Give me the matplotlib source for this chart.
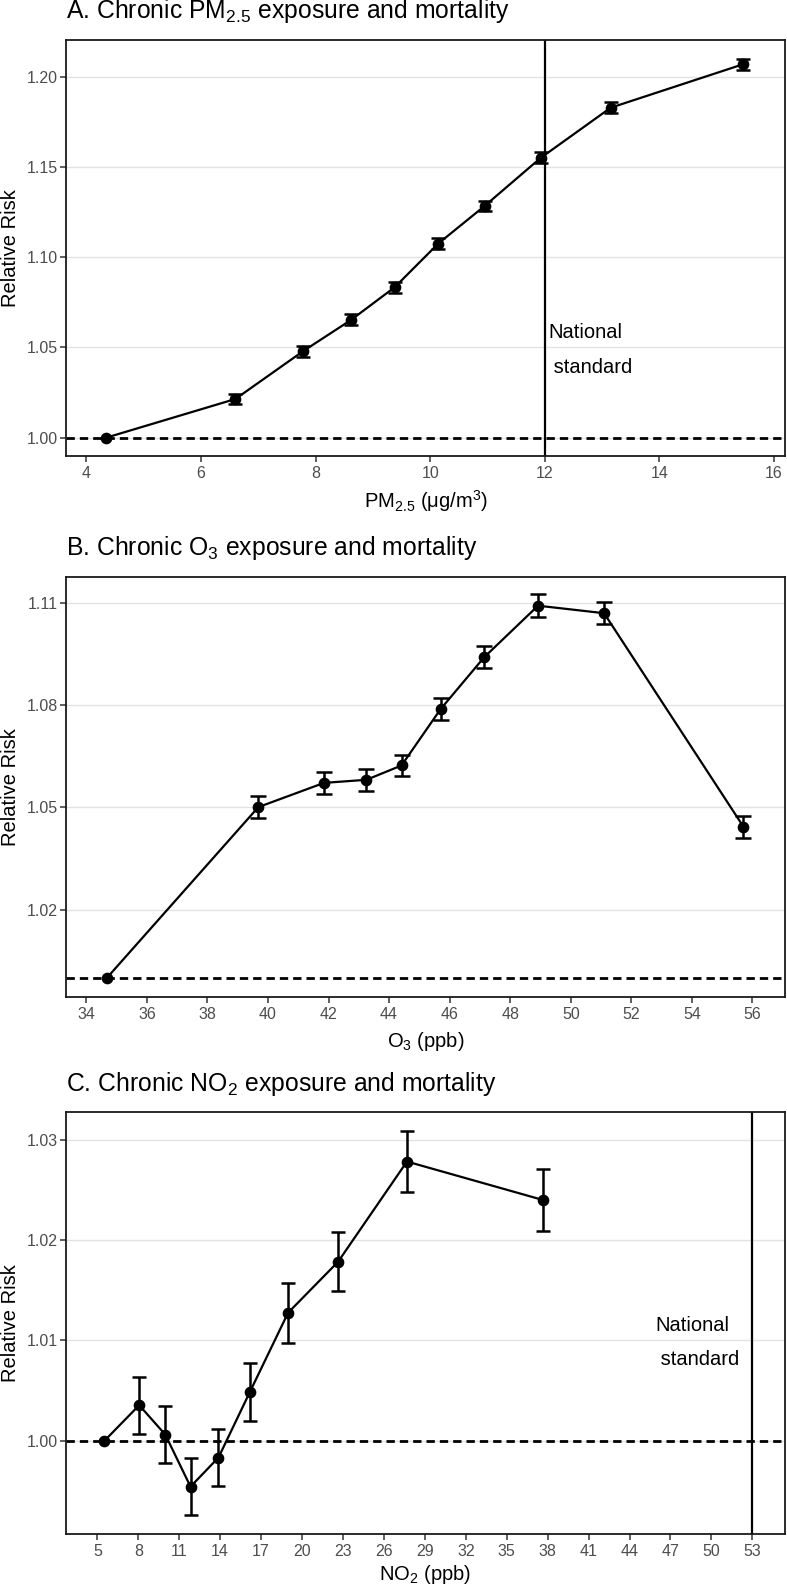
import matplotlib
matplotlib.use("Agg")
import matplotlib.pyplot as plt

plt.rcParams['font.family'] = ['Liberation Sans', 'DejaVu Sans']
plt.rcParams['mathtext.fontset'] = 'custom'
plt.rcParams['mathtext.rm'] = 'Liberation Sans'

# Panel A: PM2.5
pm_x = [4.35, 6.60, 7.78, 8.62, 9.38, 10.14, 10.95, 11.93, 13.15, 15.46]
pm_rr = [1.000, 1.0214, 1.0479, 1.0653, 1.0834, 1.1076, 1.1285, 1.1552, 1.1830, 1.2071]
pm_err = [0.0, 0.003, 0.003, 0.003, 0.003, 0.003, 0.003, 0.003, 0.003, 0.003]
pm_ticks = [4, 6, 8, 10, 12, 14, 16]
pm_yticks = [1.00, 1.05, 1.10, 1.15, 1.20]
pm_yticklabels = ['1.00', '1.05', '1.10', '1.15', '1.20']

# Panel B: O3
o3_x = [34.67, 39.68, 41.85, 43.25, 44.41, 45.70, 47.14, 48.92, 51.10, 55.70]
o3_rr = [1.000, 1.0501, 1.0572, 1.0581, 1.0623, 1.0788, 1.0940, 1.1091, 1.1069, 1.0444]
o3_err = [0.0, 0.0032, 0.0032, 0.0032, 0.0032, 0.0032, 0.0032, 0.0033, 0.0033, 0.0032]
o3_ticks = list(range(34, 57, 2))
o3_yticks = [1.02, 1.05, 1.08, 1.11]
o3_yticklabels = ['1.02', '1.05', '1.08', '1.11']

# Panel C: NO2
no2_x = [5.51, 8.07, 9.98, 11.83, 13.88, 16.17, 18.98, 22.64, 27.69, 37.64]
no2_rr = [1.000, 1.00356, 1.00063, 0.99545, 0.99835, 1.00485, 1.01276, 1.01783, 1.02781, 1.02399]
no2_err = [0.0, 0.00285, 0.00283, 0.00284, 0.00284, 0.00287, 0.0030, 0.00295, 0.00305, 0.0031]
no2_ticks = list(range(5, 54, 3))
no2_yticks = [1.00, 1.01, 1.02, 1.03]
no2_yticklabels = ['1.00', '1.01', '1.02', '1.03']

fig = plt.figure(figsize=(7.87, 15.86), dpi=100)

panels = [
    dict(rect=[0.0836, 0.7125, 0.914, 0.2623], x=pm_x, y=pm_rr, e=pm_err,
         xt=pm_ticks, yt=pm_yticks, ytl=pm_yticklabels,
         xlim=(3.64, 16.195), ylim=(0.9898, 1.2206), cap=5.3,
         title='A. Chronic PM$_\\mathregular{2.5}$ exposure and mortality',
         xlabel='PM$_\\mathregular{2.5}$ (\u03bcg/m$^\\mathregular{3}$)',
         lpad=5.5, std=12, txt=(12.06, 1.0487)),
    dict(rect=[0.0836, 0.3712, 0.914, 0.2652], x=o3_x, y=o3_rr, e=o3_err,
         xt=o3_ticks, yt=o3_yticks, ytl=o3_yticklabels,
         xlim=(33.32, 57.08), ylim=(0.9944, 1.1176), cap=5.8,
         title='B. Chronic O$_\\mathregular{3}$ exposure and mortality',
         xlabel='O$_\\mathregular{3}$ (ppb)', lpad=5.5, std=None, txt=None),
    dict(rect=[0.0836, 0.0328, 0.914, 0.2658], x=no2_x, y=no2_rr, e=no2_err,
         xt=no2_ticks, yt=no2_yticks, ytl=no2_yticklabels,
         xlim=(2.69, 55.4), ylim=(0.99074, 1.0327), cap=4.9,
         title='C. Chronic NO$_\\mathregular{2}$ exposure and mortality',
         xlabel='NO$_\\mathregular{2}$ (ppb)', lpad=3.0, std=53, txt=(45.9, 1.0098)),
]

for p in panels:
    ax = fig.add_axes(p['rect'])
    ax.set_xlim(p['xlim'])
    ax.set_ylim(p['ylim'])
    ax.set_xticks(p['xt'])
    ax.set_yticks(p['yt'])
    ax.set_yticklabels(p['ytl'])
    ax.grid(axis='y', color='#E3E3E3', lw=1.0, zorder=0)
    ax.set_axisbelow(True)

    ax.axhline(1.0, color='black', lw=2.0, ls=(0, (3.0, 1.8)), zorder=2)
    if p['std'] is not None:
        ax.axvline(p['std'], color='black', lw=1.6, zorder=2)
        ax.text(p['txt'][0], p['txt'][1], 'National\n standard', fontsize=14.5,
                ha='left', va='center', linespacing=2.05, color='black')

    ax.plot(p['x'], p['y'], color='black', lw=1.6, zorder=3)
    ax.errorbar(p['x'][1:], p['y'][1:], yerr=p['e'][1:], fmt='none',
                ecolor='black', elinewidth=1.8, capsize=p['cap'],
                capthick=1.8, zorder=3)
    ax.plot(p['x'], p['y'], 'o', color='black', ms=7.4, zorder=4)

    for s in ax.spines.values():
        s.set_linewidth(1.3)
        s.set_color('#1a1a1a')
    ax.tick_params(axis='both', length=4, width=1.1, color='#333333',
                   labelsize=11.5, labelcolor='#4D4D4D')
    ax.tick_params(axis='y', pad=1.5)
    ax.tick_params(axis='x', pad=3)

    ax.set_title(p['title'], loc='left', fontsize=17.8, pad=15.5)
    ax.set_xlabel(p['xlabel'], fontsize=14.5, labelpad=p['lpad'])
    ax.set_ylabel('Relative Risk', fontsize=14.5)
    ax.yaxis.set_label_coords(-0.063, 0.5)

fig.savefig('out.png', dpi=100)
